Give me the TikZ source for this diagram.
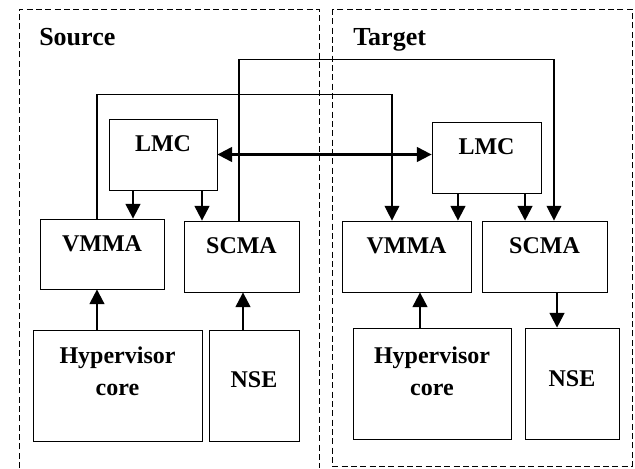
\documentclass[tikz,border=0pt]{standalone}
\usepackage{fontspec}
\setmainfont{Liberation Serif}
\usetikzlibrary{arrows.meta}

\begin{document}
\begin{tikzpicture}[x=0.75pt,y=-0.75pt,>={Triangle[width=11pt,length=11pt]},
                    font=\bfseries\fontsize{18}{24}\selectfont,
                    block/.style={draw,line width=0.6pt,inner sep=0pt},
                    region/.style={draw,dash pattern=on 4.5pt off 2.5pt,line width=0.6pt},
                    host/.style={anchor=base west,inner sep=0pt,font=\bfseries\fontsize{19.5}{24}\selectfont},
                    flow/.style={->,line width=1.6pt},
                    link/.style={->,line width=0.9pt},
                    boxtext/.style={label={[anchor=base,yshift=-24.75pt]north:#1}}]
  \useasboundingbox (0,0) rectangle (635,468);

  % the two hosts
  \draw[region] (19,468) -- (19,9) -- (319,9) -- (319,468);
  \draw[region] (332,9) rectangle (632,466);
  \node[host] (src) at (39,45) {Source};
  \node[host] (tgt) at (353,45) {Target};

  % source side
  \node[block,minimum width=81pt,minimum height=53.25pt,boxtext=LMC] (sLMC) at (163,154.5) {};
  \node[block,minimum width=93pt,minimum height=52.5pt,boxtext=VMMA] (sVMMA) at (102,254) {};
  \node[block,minimum width=86.25pt,minimum height=53.25pt,boxtext=SCMA] (sSCMA) at (241.5,256.5) {};
  \node[block,minimum width=126.75pt,minimum height=83.25pt,
        label={[anchor=north,inner sep=0pt,align=center,yshift=-12.75pt]north:Hypervisor\\core}] (sHyp) at (117.5,385.5) {};
  \node[block,minimum width=67.5pt,minimum height=83.25pt,
        label={[anchor=base,yshift=-43.5pt]north:NSE}] (sNSE) at (254,385.5) {};

  % target side
  \node[block,minimum width=81.75pt,minimum height=53.25pt,boxtext=LMC] (tLMC) at (486.5,157.5) {};
  \node[block,minimum width=96.75pt,minimum height=53.25pt,boxtext=VMMA] (tVMMA) at (406.5,256.5) {};
  \node[block,minimum width=93.75pt,minimum height=53.25pt,boxtext=SCMA] (tSCMA) at (544.5,256.5) {};
  \node[block,minimum width=118.5pt,minimum height=83.25pt,
        label={[anchor=north,inner sep=0pt,align=center,yshift=-14.25pt]north:Hypervisor\\core}] (tHyp) at (432,383.5) {};
  \node[block,minimum width=70.5pt,minimum height=83.25pt,
        label={[anchor=base,yshift=-44.25pt]north:NSE}] (tNSE) at (572,383.5) {};

  \draw[<->,line width=1.6pt] (sLMC.east) -- (sLMC.east -| tLMC.west);

  \draw[flow] ([xshift=-22.5pt]sLMC.south) -- ([xshift=-22.5pt]sLMC.south |- sVMMA.north);
  \draw[flow] ([xshift=29.25pt]sLMC.south) -- ([xshift=29.25pt]sLMC.south |- sSCMA.north);
  \draw[flow] ([xshift=-21.4pt]tLMC.south) -- ([xshift=-21.4pt]tLMC.south |- tVMMA.north);
  \draw[flow] ([xshift=28.9pt]tLMC.south) -- ([xshift=28.9pt]tLMC.south |- tSCMA.north);

  \draw[flow] ([xshift=-15.4pt]sHyp.north) -- ([xshift=-15.4pt]sHyp.north |- sVMMA.south);
  \draw[flow] ([xshift=-8.25pt]sNSE.north) -- ([xshift=-8.25pt]sNSE.north |- sSCMA.south);
  \draw[flow] ([xshift=-9pt]tHyp.north) -- ([xshift=-9pt]tHyp.north |- tVMMA.south);
  \draw[flow] ([xshift=9.4pt]tSCMA.south) -- ([xshift=9.4pt]tSCMA.south |- tNSE.north);

  % migration paths
  \draw[link] ([xshift=-3.75pt]sVMMA.north) -- ++(0,-124) -| ([xshift=-10.9pt]tVMMA.north);
  \draw[link] ([xshift=-1.9pt]sSCMA.north) -- ++(0,-161) -| ([xshift=7.1pt]tSCMA.north);
\end{tikzpicture}
\end{document}
